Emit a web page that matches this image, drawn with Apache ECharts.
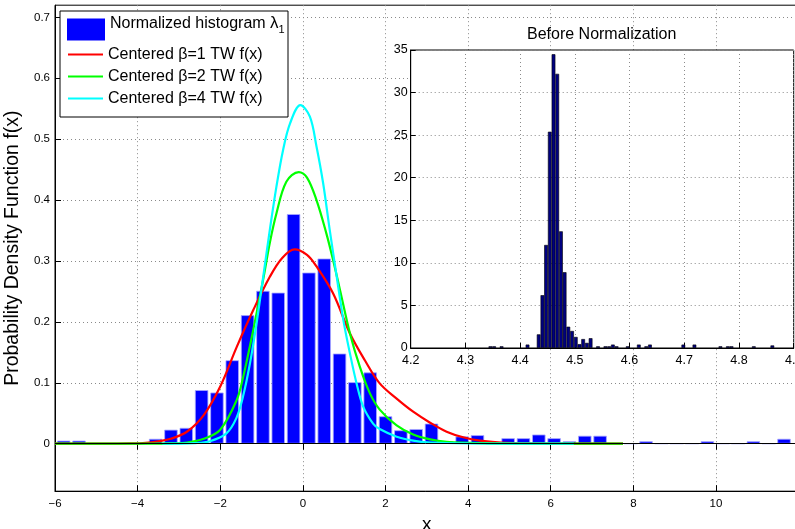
<!DOCTYPE html>
<html><head><meta charset="utf-8">
<script src="https://cdn.jsdelivr.net/npm/echarts@6/dist/echarts.min.js"></script>
<style>html,body{margin:0;padding:0;background:#fff}#c{width:795px;height:529px}</style>
</head><body><div id="c"></div>
<script>
// ---- Main (normalized) histogram ----
const mainBinCenters = [-5.790,-5.419,-5.048,-4.677,-4.306,-3.935,-3.564,-3.193,-2.822,-2.451,-2.080,-1.709,-1.338,-0.967,-0.596,-0.225,0.146,0.517,0.888,1.259,1.630,2.001,2.372,2.743,3.114,3.485,3.856,4.227,4.598,4.969,5.340,5.711,6.082,6.453,6.824,7.195,7.566,7.937,8.308,8.679,9.050,9.421,9.792,10.163,10.534,10.905,11.276,11.647];
const mainBinHeights = [0.005,0.005,0,0,0,0,0.008,0.023,0.026,0.088,0.084,0.137,0.211,0.251,0.248,0.377,0.281,0.304,0.148,0.101,0.117,0.045,0.022,0.024,0.033,0.004,0.012,0.014,0,0.009,0.009,0.015,0.009,0.004,0.013,0.013,0,0,0.004,0,0,0,0.004,0,0,0.004,0,0.008];

// ---- Centered Tracy-Widom densities ----
const tw1X = [-6,-4.8,-4.2,-3.8,-3.5,-3.2,-2.8,-2.4,-2.0,-1.6,-1.2,-0.8,-0.5,-0.2,0.1,0.33,0.73,1.14,1.5,1.86,2.27,2.67,3.08,3.48,3.88,4.29,4.8,5.5,6.5,7.75];
const tw1Y = [0,0,0.0004,0.0015,0.004,0.008,0.020,0.047,0.094,0.159,0.2195,0.274,0.305,0.319,0.310,0.291,0.247,0.181,0.137,0.099,0.074,0.0525,0.0345,0.0197,0.0105,0.005,0.002,0.0006,0.0001,0];
const tw2X = [-6,-3.6,-3.2,-2.8,-2.4,-2.0,-1.6,-1.45,-1.2,-0.96,-0.8,-0.64,-0.4,-0.1,0.1,0.33,0.57,0.73,0.9,1.14,1.38,1.62,1.86,2.27,2.67,3.08,3.48,4.3,5.5,7.75];
const tw2Y = [0,0,0.0005,0.002,0.008,0.023,0.072,0.108,0.187,0.270,0.330,0.378,0.430,0.446,0.437,0.400,0.345,0.302,0.252,0.181,0.126,0.083,0.056,0.030,0.015,0.007,0.003,0.0008,0.0001,0];
const tw4X = [-3.4,-2.6,-2.25,-1.85,-1.61,-1.45,-1.28,-1.12,-0.96,-0.80,-0.64,-0.48,-0.31,-0.06,0.17,0.33,0.49,0.65,0.82,0.98,1.14,1.30,1.46,1.70,1.86,2.27,2.67,3.08,4.0,6.56];
const tw4Y = [0,0.001,0.004,0.017,0.042,0.077,0.132,0.198,0.274,0.351,0.422,0.482,0.526,0.556,0.537,0.488,0.428,0.351,0.274,0.203,0.148,0.099,0.061,0.033,0.024,0.0115,0.005,0.002,0.0005,0];

// ---- Inset: histogram before normalization ----
const rawBinCenters = [4.3457,4.3525,4.3661,4.4135,4.4339,4.4407,4.4474,4.4542,4.4610,4.4678,4.4746,4.4813,4.4881,4.4949,4.5017,4.5085,4.5152,4.5220,4.5288,4.5424,4.5559,4.5627,4.5695,4.5763,4.5966,4.6169,4.6305,4.6373,4.6983,4.7186,4.7661,4.7797,4.7864,4.8271,4.8610];
const rawBinHeights = [0.2,0.2,0.2,0.4,1.6,6.2,12.1,25.4,34.5,32.2,13.7,8.9,2.5,2.0,1.3,0.45,1.05,0.6,1.15,0.2,0.2,0.2,0.4,0.2,0.2,0.4,0.2,0.4,0.4,0.4,0.2,0.2,0.2,0.2,0.3];

// ---- Tick labels ----
const mainXTicks = [-6,-4,-2,0,2,4,6,8,10];
const mainYTicks = [0,0.1,0.2,0.3,0.4,0.5,0.6,0.7];

const seriesNames = ['Normalized histogram λ1','Centered β=1 TW f(x)','Centered β=2 TW f(x)','Centered β=4 TW f(x)'];

const FONT = '"Liberation Sans", Arial, Helvetica, sans-serif';
const zip = (a, b) => a.map((v, i) => [v, b[i]]);
const minus = v => String(v).replace('-', '\u2212');
const gridLine = {show: true, lineStyle: {color: '#8a8a8a', width: 1, type: [1, 3]}};
const lineIcon = 'path://M0,0H35V2.2H0Z';

const chart = echarts.init(document.getElementById('c'), null, {renderer: 'canvas'});
chart.setOption({
  animation: false,
  backgroundColor: '#fff',
  textStyle: {fontFamily: FONT, color: '#000'},
  grid: [
    {left: 55, top: 5.2, width: 743.6, height: 486, containLabel: false, outerBoundsMode: 'none',
     show: true, borderColor: '#000', borderWidth: 1, backgroundColor: 'transparent', z: 0},
    {left: 410.7, top: 50, width: 383, height: 298, containLabel: false, outerBoundsMode: 'none',
     show: true, borderColor: '#000', borderWidth: 1, backgroundColor: '#fff', z: 3}
  ],
  xAxis: [
    {type: 'value', gridIndex: 0, min: -6, max: 12,
     name: 'x', nameLocation: 'middle', nameGap: 15, nameTextStyle: {fontSize: 19, color: '#000', fontFamily: FONT},
     axisLine: {show: true, onZero: false, lineStyle: {color: '#000', width: 1}},
     axisTick: {show: true, inside: true, length: 6, customValues: mainXTicks, lineStyle: {color: '#000'}},
     axisLabel: {customValues: mainXTicks, fontSize: 11.5, color: '#000', margin: 7, formatter: minus},
     splitLine: gridLine},
    {type: 'value', gridIndex: 1, min: 4.2, max: 4.9, interval: 0.1, z: 4,
     axisLine: {show: true, onZero: false, lineStyle: {color: '#000', width: 1}},
     axisTick: {show: true, inside: true, length: 5, lineStyle: {color: '#000'}},
     axisLabel: {fontSize: 12.5, color: '#000', margin: 6, showMaxLabel: true},
     splitLine: gridLine},
    {type: 'value', gridIndex: 0, position: 'top', min: -6, max: 12,
     axisLine: {show: false},
     axisTick: {show: true, inside: true, length: 6, customValues: mainXTicks, lineStyle: {color: '#000'}},
     axisLabel: {show: false}, splitLine: {show: false}}
  ],
  yAxis: [
    {type: 'value', gridIndex: 0, min: -0.078, max: 0.72,
     name: 'Probability Density Function f(x)', nameLocation: 'middle', nameGap: 27,
     nameTextStyle: {fontSize: 19.5, color: '#000', fontFamily: FONT},
     axisLine: {show: true, onZero: false, lineStyle: {color: '#000', width: 1}},
     axisTick: {show: true, inside: true, length: 6, customValues: mainYTicks, lineStyle: {color: '#000'}},
     axisLabel: {customValues: mainYTicks, fontSize: 11.5, color: '#000', margin: 5},
     splitLine: gridLine},
    {type: 'value', gridIndex: 1, min: 0, max: 35, interval: 5, z: 4,
     axisLine: {show: true, onZero: false, lineStyle: {color: '#000', width: 1}},
     axisTick: {show: true, inside: true, length: 5, lineStyle: {color: '#000'}},
     axisLabel: {fontSize: 12.5, color: '#000', margin: 3},
     splitLine: gridLine}
  ],
  legend: [
    {data: [{name: seriesNames[0], icon: 'rect'}], left: 67, top: 15, padding: 0, orient: 'vertical',
     itemWidth: 38, itemHeight: 22, itemStyle: {borderWidth: 0}, z: 6,
     formatter: () => 'Normalized histogram {l|λ}{s|1}',
     textStyle: {fontSize: 16, color: '#000', fontFamily: FONT, padding: [0, 0, 12, 0],
       rich: {l: {fontSize: 17, fontFamily: FONT}, s: {fontSize: 11, fontFamily: FONT, padding: [12, 0, 0, 0]}}}},
    {data: seriesNames.slice(1).map(n => ({name: n, icon: lineIcon})), left: 68, top: 46.5, padding: 0, orient: 'vertical',
     itemWidth: 35, itemHeight: 21, itemGap: 6, z: 6, symbolKeepAspect: true,
     textStyle: {fontSize: 16, color: '#000', fontFamily: FONT}}
  ],
  graphic: [
    {type: 'rect', shape: {x: 60, y: 11, width: 228, height: 106}, style: {fill: '#fff', stroke: '#000', lineWidth: 1}, z: 5, silent: true},
    {type: 'text', x: 601.7, y: 35, z: 6, style: {text: 'Before Normalization', fontSize: 16, fontFamily: FONT, fill: '#000', align: 'center', verticalAlign: 'middle'}}
  ],
  series: [
    {name: seriesNames[0], type: 'bar', xAxisIndex: 0, yAxisIndex: 0, barWidth: 13.4, z: 2,
     data: zip(mainBinCenters, mainBinHeights),
     itemStyle: {color: '#0000ff', borderColor: '#a8a8ff', borderWidth: 0.8},
     markLine: {silent: true, symbol: ['none', 'none'], label: {show: false}, animation: false,
       lineStyle: {color: '#000', width: 1, type: 'solid'}, data: [{yAxis: 0}]}},
    {name: seriesNames[1], type: 'line', xAxisIndex: 0, yAxisIndex: 0, z: 3, data: zip(tw1X, tw1Y),
     smooth: 0.35, showSymbol: false, symbol: 'none', lineStyle: {color: '#ff0000', width: 2.2}, itemStyle: {color: '#ff0000'}},
    {name: seriesNames[2], type: 'line', xAxisIndex: 0, yAxisIndex: 0, z: 3, data: zip(tw2X, tw2Y),
     smooth: 0.35, showSymbol: false, symbol: 'none', lineStyle: {color: '#00ff00', width: 2.2}, itemStyle: {color: '#00ff00'}},
    {name: seriesNames[3], type: 'line', xAxisIndex: 0, yAxisIndex: 0, z: 3, data: zip(tw4X, tw4Y),
     smooth: 0.35, showSymbol: false, symbol: 'none', lineStyle: {color: '#00ffff', width: 2.2}, itemStyle: {color: '#00ffff'}},
    {name: 'Before Normalization', type: 'bar', xAxisIndex: 1, yAxisIndex: 1, barWidth: 3.7, z: 5,
     data: zip(rawBinCenters, rawBinHeights),
     itemStyle: {color: '#000080', borderColor: '#000', borderWidth: 0.6}}
  ]
});
</script>
</body></html>
